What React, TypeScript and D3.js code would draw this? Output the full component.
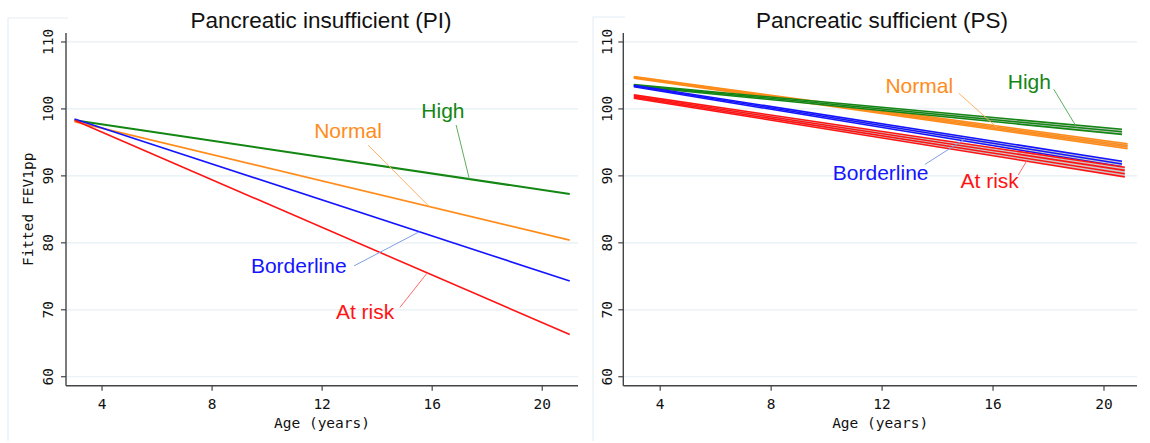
import React from "react";
import * as d3 from "d3";

// ---------- data ----------
const groupNames = ["High", "Normal", "Borderline", "At risk"];
const xTicks = [4, 8, 12, 16, 20];
const yTicks = [60, 70, 80, 90, 100, 110];

// Pancreatic insufficient: fitted FEV1pp at ages 3 and 21
const piAges = [3, 21];
const piHigh = [98.3, 87.3];
const piNormal = [98.1, 80.4];
const piBorderline = [98.5, 74.3];
const piAtRisk = [98.3, 66.3];

// Pancreatic sufficient: bundles of fitted lines (start, end values)
const psStartAge = 3.05;
const psEndAges = [20.65, 20.85, 20.65, 20.75];
const psHighLines = [[103.65, 96.95], [103.52, 96.58], [103.4, 96.2]];
const psNormalLines = [[104.85, 94.8], [104.76, 94.55], [104.68, 94.3], [104.6, 94.05]];
const psBorderlineLines = [[103.55, 92.2], [103.43, 91.78], [103.3, 91.35]];
const psAtRiskLines = [[102.1, 91.3], [101.93, 90.82], [101.76, 90.32], [101.6, 89.85]];

// ---------- style / layout ----------
const colors = ["#138613", "#ff8c1a", "#1414ff", "#ff1414"];
const leaderColors = ["#5fae5f", "#ffb266", "#7f9fe6", "#ff6a6a"];
const MONO = "'DejaVu Sans Mono', monospace";
const SANS = "'Liberation Sans', Arial, sans-serif";

const yDomain = [58.66, 111.34];
const yRange = [385.7, 33];

type Label = { text: [number, number]; from: [number, number]; toAge: number; toLine?: number };

const piLabels: Label[] = [
  { text: [16.39, 98.6], from: [16.87, 97.6], toAge: 17.35 },
  { text: [12.94, 95.66], from: [13.67, 94.61], toAge: 15.89 },
  { text: [11.15, 75.45], from: [13.16, 76.56], toAge: 15.53 },
  { text: [13.56, 68.58], from: [14.83, 70.37], toAge: 15.82 },
];
const psLabels: Label[] = [
  { text: [17.31, 102.93], from: [18.19, 102.93], toAge: 19.02, toLine: 1 },
  { text: [13.34, 102.33], from: [14.77, 102.33], toAge: 16.13, toLine: 1 },
  { text: [11.95, 89.38], from: [13.55, 91.73], toAge: 14.99, toLine: 1 },
  { text: [15.88, 88.14], from: [16.91, 90.13], toAge: 17.21, toLine: 3 },
];

function valueAt(ages: number[], vals: number[], age: number) {
  return d3.scaleLinear().domain(ages).range(vals)(age);
}

function Axes({ x, y, x0, x1, tickLabelX }: any) {
  return (
    <g>
      {yTicks.map((t) => (
        <line key={"g" + t} x1={x0} x2={x1} y1={y(t)} y2={y(t)} stroke="#e6eff3" strokeWidth={1.2} />
      ))}
      <line x1={x0} x2={x0} y1={yRange[1]} y2={yRange[0]} stroke="#444" strokeWidth={1.4} />
      <line x1={x0} x2={x1} y1={yRange[0]} y2={yRange[0]} stroke="#444" strokeWidth={1.4} />
      {yTicks.map((t) => (
        <g key={"yt" + t}>
          <line x1={x0 - 5} x2={x0} y1={y(t)} y2={y(t)} stroke="#444" strokeWidth={1.2} />
          <text
            transform={`translate(${tickLabelX},${y(t)}) rotate(-90)`}
            textAnchor="middle"
            fontFamily={MONO}
            fontSize={14.5}
            fill="#111"
          >
            {t}
          </text>
        </g>
      ))}
      {xTicks.map((t) => (
        <g key={"xt" + t}>
          <line x1={x(t)} x2={x(t)} y1={yRange[0]} y2={yRange[0] + 5} stroke="#444" strokeWidth={1.2} />
          <text x={x(t)} y={409} textAnchor="middle" fontFamily={MONO} fontSize={14.5} fill="#111">
            {t}
          </text>
        </g>
      ))}
      <text x={(x0 + x1) / 2} y={427.5} textAnchor="middle" fontFamily={MONO} fontSize={14.5} fill="#111">
        Age (years)
      </text>
    </g>
  );
}

function LabelMark({ lab, i, x, y, to }: any) {
  return (
    <g>
      <line x1={x(lab.from[0])} y1={y(lab.from[1])} x2={x(lab.toAge)} y2={y(to)} stroke={leaderColors[i]} strokeWidth={1} />
      <text x={x(lab.text[0])} y={y(lab.text[1])} textAnchor="middle" fontFamily={SANS} fontSize={21} fill={colors[i]}>
        {groupNames[i]}
      </text>
    </g>
  );
}

export default function App() {
  const y = d3.scaleLinear().domain(yDomain).range(yRange);
  const xL = d3.scaleLinear().domain([2.69, 21.3]).range([66, 578]);
  const xR = d3.scaleLinear().domain([2.67, 21.19]).range([623.3, 1137]);

  const piSeries = [piHigh, piNormal, piBorderline, piAtRisk];
  const psSeries = [psHighLines, psNormalLines, psBorderlineLines, psAtRiskLines];

  const lineL = d3.line<[number, number]>().x((d) => xL(d[0])).y((d) => y(d[1]));
  const lineR = d3.line<[number, number]>().x((d) => xR(d[0])).y((d) => y(d[1]));
  const areaR = d3
    .area<[number, number, number]>()
    .x((d) => xR(d[0]))
    .y0((d) => y(d[1]))
    .y1((d) => y(d[2]));

  const piOrder = [0, 1, 2, 3];
  const psOrder = [1, 0, 2, 3];

  return (
    <svg width={1150} height={443} style={{ position: "absolute", left: 0, top: 0, background: "#fff" }}>
      {/* faint graph-region frames */}
      <path d="M8,441 V18 H68" fill="none" stroke="#e4eef6" strokeWidth={1.2} />
      <path d="M593,441 V17 H625" fill="none" stroke="#e4eef6" strokeWidth={1.2} />

      {/* titles */}
      <text x={321} y={27.7} textAnchor="middle" fontFamily={SANS} fontSize={22.5} fill="#111">
        Pancreatic insufficient (PI)
      </text>
      <text x={882} y={27.7} textAnchor="middle" fontFamily={SANS} fontSize={22.5} fill="#111">
        Pancreatic sufficient (PS)
      </text>

      {/* y axis title */}
      <text
        transform={`translate(33,${(yRange[0] + yRange[1]) / 2}) rotate(-90)`}
        textAnchor="middle"
        fontFamily={MONO}
        fontSize={14.5}
        fill="#111"
      >
        Fitted FEV1pp
      </text>

      <Axes x={xL} y={y} x0={66} x1={578} tickLabelX={53} />
      <Axes x={xR} y={y} x0={623.3} x1={1137} tickLabelX={611.5} />

      {/* PI lines */}
      {piOrder.map((i) => (
        <path
          key={"pi" + i}
          d={lineL(piAges.map((a, k) => [a, piSeries[i][k]]) as any) || ""}
          fill="none"
          stroke={colors[i]}
          strokeWidth={i === 0 ? 2.1 : 1.6}
        />
      ))}
      {piLabels.map((lab, i) => (
        <LabelMark key={"pl" + i} lab={lab} i={i} x={xL} y={y} to={valueAt(piAges, piSeries[i], lab.toAge)} />
      ))}

      {/* PS bundles */}
      {psOrder.map((i) => {
        const lines = psSeries[i];
        const ages = [psStartAge, psEndAges[i]];
        const top = lines[0];
        const bot = lines[lines.length - 1];
        const band = ages.map((a, k) => [a, bot[k], top[k]]) as any;
        return (
          <g key={"ps" + i}>
            <path d={areaR(band) || ""} fill="#cacaca" />
            {lines.map((ln, j) => (
              <path
                key={j}
                d={lineR(ages.map((a, k) => [a, ln[k]]) as any) || ""}
                fill="none"
                stroke={colors[i]}
                strokeWidth={1.55}
              />
            ))}
          </g>
        );
      })}
      {psLabels.map((lab, i) => {
        const ln = psSeries[i][lab.toLine ?? 1];
        return (
          <LabelMark
            key={"sl" + i}
            lab={lab}
            i={i}
            x={xR}
            y={y}
            to={valueAt([psStartAge, psEndAges[i]], ln, lab.toAge)}
          />
        );
      })}
    </svg>
  );
}
